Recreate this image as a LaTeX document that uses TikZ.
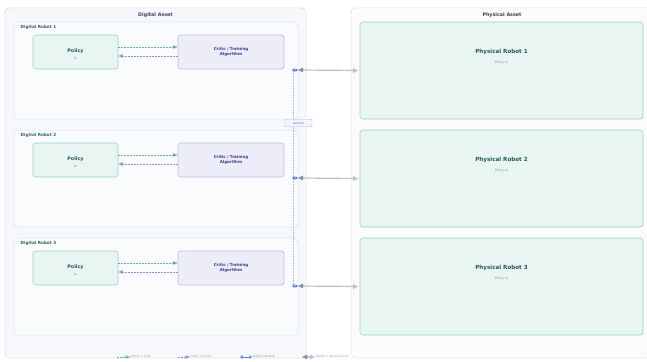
\documentclass[tikz,border=0pt]{standalone}
\usepackage{fontspec}
\setmainfont{DejaVu Sans}
\usetikzlibrary{arrows.meta}

\definecolor{assetfill}{HTML}{F7F8FB}
\definecolor{assetline}{HTML}{C9CDD9}
\definecolor{physfill}{HTML}{FCFBFA}
\definecolor{physline}{HTML}{D6D2DC}
\definecolor{robotfill}{HTML}{FAFBFC}
\definecolor{robotline}{HTML}{C6DCE0}
\definecolor{polfill}{HTML}{E8F5F3}
\definecolor{polline}{HTML}{96D4C8}
\definecolor{crfill}{HTML}{EDEDFA}
\definecolor{crline}{HTML}{BABAE6}
\definecolor{titlecol}{HTML}{3B4056}
\definecolor{robotcol}{HTML}{2F6B5C}
\definecolor{physcol}{HTML}{2A5A50}
\definecolor{crcol}{HTML}{3A3A8C}
\definecolor{subcol}{HTML}{7E9490}
\definecolor{greenarrow}{HTML}{68B4A2}
\definecolor{purplearrow}{HTML}{8C92DA}
\definecolor{netblue}{HTML}{5B86D6}
\definecolor{netdash}{HTML}{A8BEEB}
\definecolor{syncgray}{HTML}{C2BED3}
\definecolor{synctip}{HTML}{8F8BAA}
\definecolor{legendcol}{HTML}{9A9AA8}

\tikzset{
  assetbox/.style={draw=assetline, fill=assetfill, dashed, dash pattern=on 2.5pt off 1.5pt, line width=0.5pt, rounded corners=4pt},
  physasset/.style={draw=physline, fill=physfill, dashed, dash pattern=on 2.5pt off 1.5pt, line width=0.5pt, rounded corners=4pt},
  robotbox/.style={draw=robotline, fill=robotfill, dashed, dash pattern=on 2.5pt off 1.5pt, line width=0.5pt, rounded corners=4pt, minimum width=284pt, minimum height=97pt, inner sep=0pt},
  policybox/.style={draw=polline, fill=polfill, line width=0.6pt, rounded corners=2.5pt, minimum width=85pt, minimum height=34pt, inner sep=0pt},
  criticbox/.style={draw=crline, fill=crfill, line width=0.6pt, rounded corners=2.5pt, minimum width=106pt, minimum height=34pt, inner sep=0pt, text=crcol, font=\fontsize{4}{5.8}\selectfont\bfseries, align=center},
  physbox/.style={draw=polline, fill=polfill, line width=0.6pt, rounded corners=3pt, minimum width=283pt, minimum height=97pt, inner sep=0pt},
  asset title/.style={text=titlecol, font=\fontsize{4.8}{6}\selectfont\bfseries, inner sep=0pt},
  robot label/.style={text=robotcol, font=\fontsize{4.2}{5}\selectfont\bfseries, inner sep=0pt, anchor=west},
  policy title/.style={text=physcol, font=\fontsize{4.8}{5.5}\selectfont\bfseries, inner sep=0pt},
  phys title/.style={text=physcol, font=\fontsize{5.6}{6.5}\selectfont\bfseries, inner sep=0pt},
  subtext/.style={text=subcol, font=\fontsize{3.2}{3.8}\selectfont, inner sep=0pt},
  p2c/.style={draw=greenarrow, dash pattern=on 2pt off 1pt, line width=0.55pt, -{Stealth[length=4.5pt,width=3.2pt,inset=0pt]}},
  c2p/.style={draw=purplearrow, dash pattern=on 2pt off 1pt, line width=0.55pt, -{Stealth[length=4.5pt,width=3.2pt,inset=0pt]}},
  netline/.style={draw=netdash, dash pattern=on 2pt off 1pt, line width=0.6pt},
  netarrow/.style={draw=netblue, line width=0.8pt, {Stealth[length=2.5pt,width=3.5pt,inset=0pt]}-{Stealth[length=2.5pt,width=3.5pt,inset=0pt]}},
  syncarrow/.style={draw=syncgray, line width=1.2pt, {Stealth[length=5pt,width=4.5pt,inset=0pt,color=synctip]}-{Stealth[length=5pt,width=4.5pt,inset=0pt]}},
  netlabel/.style={draw=netblue!55, fill=crfill!60!white, line width=0.4pt, rounded corners=1pt, text=netblue!80!black, font=\fontsize{2.8}{3.2}\selectfont, minimum width=27pt, minimum height=7.5pt, inner sep=0pt},
  legend text/.style={text=legendcol, font=\fontsize{3}{3.4}\selectfont, inner sep=0.5pt, anchor=west}
}

\begin{document}
\begin{tikzpicture}[x=1pt, y=-1pt]
  \useasboundingbox (0,0) rectangle (647,361);
  \fill[white] (0,0) rectangle (647,361);

  % the two asset panels
  \draw[assetbox] (5,8) rectangle (306,358);
  \node[asset title] (dtitle) at (155.5,15) {Digital Asset};
  \draw[physasset] (351,8) rectangle (652,358);
  \node[asset title] (ptitle) at (502,15) {Physical Asset};

  % one row per robot pair
  \foreach \i in {1,2,3} {
    \pgfmathsetmacro\t{22+(\i-1)*108}
    \node[robotbox] (dr\i) at (156,\t+48.5) {};
    \node[robot label] (drl\i) at (20.5,\t+5.5) {Digital Robot \i};
    \node[policybox] (pol\i) at (75.5,\t+30) {};
    \node[policy title] (polt\i) at (75.5,\t+29.5) {Policy};
    \node[subtext] (pols\i) at (75.5,\t+36.5) {π\ifcase\i\or ₁\or ₂\or ₃\fi};
    \node[criticbox] (cr\i) at (231,\t+30) {Critic / Training\\Algorithm};
    \draw[p2c] ([yshift=5pt]pol\i.east) -- ([yshift=5pt]cr\i.west);
    \draw[c2p] ([yshift=-4pt]cr\i.west) -- ([yshift=-4pt]pol\i.east);

    \node[physbox] (ph\i) at (501.5,\t+48.5) {};
    \node[phys title] (pht\i) at (501.5,\t+30) {Physical Robot \i};
    \node[subtext] (phs\i) at (501.5,\t+41) {Policy π\ifcase\i\or ₁\or ₂\or ₃\fi};

    \coordinate (nt\i) at (293,\t+48);
    \coordinate (ns\i) at (298,\t+48);
  }

  % shared digital network bus
  \draw[netline] (nt1) -- (nt3);
  \node[netlabel] (netlbl) at (298.5,123) {network};

  \foreach \i in {1,2,3} {
    \draw[netarrow] ([xshift=-1pt]nt\i) -- (ns\i);
    \draw[syncarrow] (ns\i) -- ([xshift=-1.5pt]ph\i.west);
  }

  % legend
  \coordinate (lg1a) at (117,357);  \coordinate (lg1b) at (130,357);
  \coordinate (lg2a) at (178,357);  \coordinate (lg2b) at (190,357);
  \coordinate (lg3a) at (240,357);  \coordinate (lg3b) at (252,357);
  \coordinate (lg4a) at (302,357);  \coordinate (lg4b) at (315,357);
  \draw[p2c] (lg1a) -- (lg1b);
  \node[legend text] (lt1) at (lg1b) {policy → critic};
  \draw[c2p] (lg2a) -- (lg2b);
  \node[legend text] (lt2) at (lg2b) {critic → policy};
  \draw[netarrow] (lg3a) -- (lg3b);
  \node[legend text] (lt3) at (lg3b) {digital network};
  \draw[syncarrow] (lg4a) -- (lg4b);
  \node[legend text] (lt4) at (lg4b) {digital ↔ physical sync};
\end{tikzpicture}
\end{document}
